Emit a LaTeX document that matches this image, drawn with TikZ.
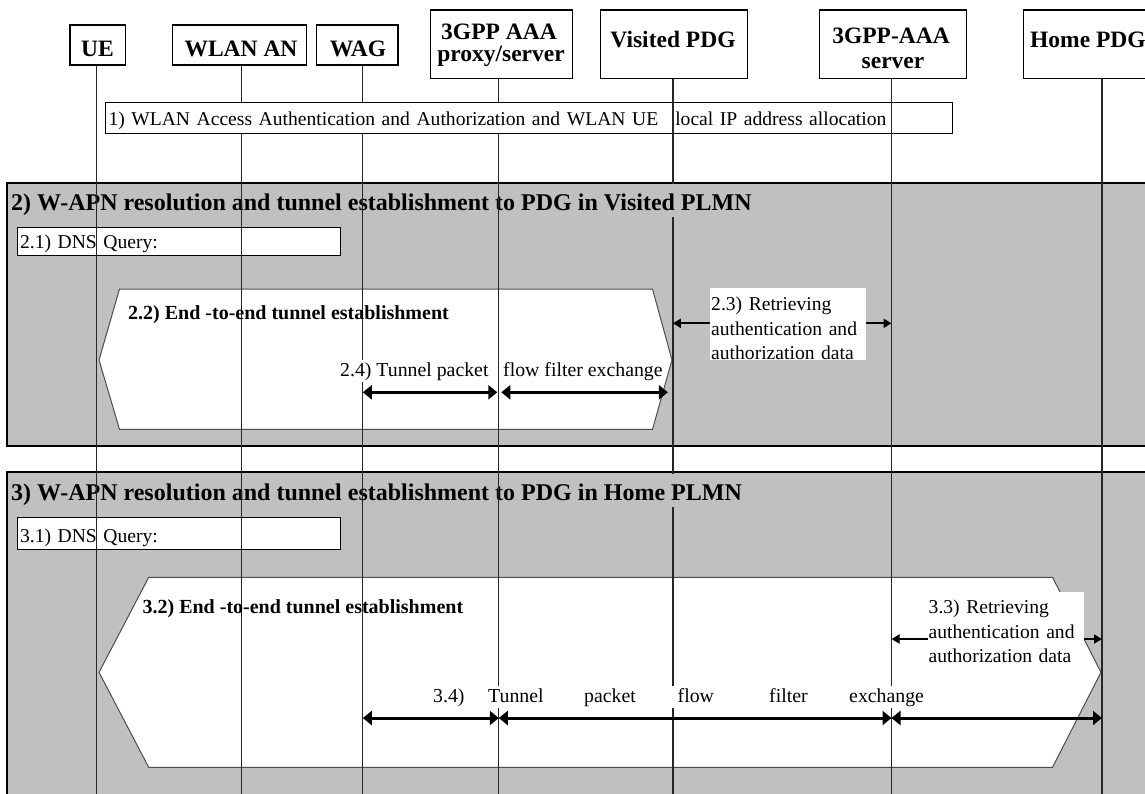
\documentclass[tikz,border=0pt]{standalone}
\usepackage{fontspec}
\setmainfont{Liberation Serif}
\usetikzlibrary{arrows.meta}
\definecolor{framegray}{HTML}{C0C0C0}
\begin{document}
\begin{tikzpicture}[x=1pt,y=-1pt,
  actor/.style={draw=black, line width=1.2pt, fill=white, inner sep=0pt, anchor=north west},
  actortext/.style={font=\fontsize{23.5}{24}\selectfont\bfseries, inner sep=0pt, anchor=base},
  lifeline/.style={line width=1.3pt, draw=black!85},
  stagebox/.style={draw=black, line width=2pt, fill=framegray},
  hexa/.style={draw=black!70, line width=1pt, fill=white},
  stepbox/.style={draw=black, line width=1pt, fill=white, anchor=north west, inner ysep=0pt, align=left, font=\fontsize{19.6}{24.5}\selectfont},
  frametitle/.style={font=\fontsize{24}{26}\selectfont\bfseries, anchor=base west, inner xsep=0pt, inner ysep=0pt, fill=framegray},
  sublabel/.style={font=\fontsize{20}{24}\selectfont\bfseries, anchor=base west, inner sep=0pt},
  wordlabel/.style={font=\fontsize{19.8}{24.5}\selectfont, fill=white, inner xsep=1.5pt, inner ysep=1pt, text height=15pt, text depth=5pt, anchor=base west},
  infobox/.style={font=\fontsize{19.6}{24.5}\selectfont, fill=white, inner xsep=1pt, inner ysep=0pt, anchor=north west, align=left, text width=154pt},
  bigarrow/.style={line width=3pt, {Triangle[length=9pt,width=14pt]}-{Triangle[length=9pt,width=14pt]}},
  smallarrow/.style={line width=2pt, {Triangle[length=8pt,width=9pt]}-{Triangle[length=8pt,width=9pt]}}
]
\useasboundingbox (0,0) rectangle (1145,793);
\clip (0,0) rectangle (1145,793);
\fill[white] (0,0) rectangle (1145,793);

% phase frames
\draw[stagebox] (7.4,182.7) rectangle (1170,445.7);
\draw[stagebox] (7.4,471.7) rectangle (1170,820);

% tunnel hexagons
\draw[hexa] (99,360) -- (119.5,289) -- (652.5,289) -- (672,360) -- (652.5,429.3) -- (119.5,429.3) -- cycle;
\draw[hexa] (99,672.3) -- (148.7,577.3) -- (1052.5,577.3) -- (1101,672.3) -- (1052.5,767.3) -- (148.7,767.3) -- cycle;

% actors
\node[actor, minimum width=55.7pt, minimum height=40pt] (ue) at (69.3,24.3) {};
\node[actor, minimum width=134.3pt, minimum height=40pt] (wlan) at (171.7,24.3) {};
\node[actor, minimum width=81.3pt, minimum height=40pt] (wag) at (316,24.3) {};
\node[actor, minimum width=141.8pt, minimum height=68.4pt] (proxy) at (430,9.3) {};
\node[actor, minimum width=147pt, minimum height=68.4pt] (vpdg) at (600,9.3) {};
\node[actor, minimum width=147pt, minimum height=68.4pt] (aaa) at (819,9.3) {};
\node[actor, minimum width=150pt, minimum height=68.4pt] (hpdg) at (1023,9.3) {};

\node[actortext] (uet) at (97.5,56.7) {UE};
\node[actortext] (wlant) at (241,56.7) {WLAN AN};
\node[actortext] (wagt) at (358,56.7) {WAG};
\node[actortext] (proxyt1) at (499,39.3) {3GPP AAA};
\node[actortext] (proxyt2) at (501,61) {proxy/server};
\node[actortext] (vpdgt) at (673,47) {Visited PDG};
\node[actortext] (aaat1) at (891,43.3) {3GPP-AAA};
\node[actortext] (aaat2) at (893,68.3) {server};
\node[actortext, anchor=base west] (hpdgt) at (1030,47) {Home PDG};

% lifeline ends
\coordinate (ueE) at (96.8,795);
\coordinate (wlanE) at (241.8,795);
\coordinate (wagE) at (362.8,795);
\coordinate (proxyE) at (498.8,795);
\coordinate (vpdgE) at (672.9,795);
\coordinate (aaaE) at (891.5,795);
\coordinate (hpdgE) at (1102,795);

% step 1
\node[stepbox, inner xsep=3pt, text width=841pt, minimum height=31pt, text height=20pt, text depth=5pt] (s1) at (105,102)
  {1) WLAN Access Authentication and Authorization and WLAN UE\hspace{17pt}local IP address allocation};

\draw[lifeline] (vpdgE |- vpdg.south) -- (vpdgE);
\draw[lifeline] (aaaE |- aaa.south) -- (aaaE);

% frame titles
\node[frametitle, text height=26.5pt, text depth=6.5pt] (t2) at (11,210.5) {2) W-APN resolution and tunnel establishment to PDG in Visited PLMN};
\node[frametitle, text height=26pt, text depth=7pt] (t3) at (11,500) {3) W-APN resolution and tunnel establishment to PDG in Home PLMN};

% DNS boxes
\node[stepbox, inner xsep=2.2pt, text width=318.2pt, minimum height=28pt, text height=18.8pt, text depth=5pt] (s21) at (17.4,226.7) {2.1) DNS Query:};
\node[stepbox, inner xsep=2.2pt, text width=318.2pt, minimum height=32.3pt, text height=22.3pt, text depth=5pt] (s31) at (17.4,516.7) {3.1) DNS Query:};

% remaining lifelines
\draw[lifeline] (ueE |- ue.south) -- (ueE);
\draw[lifeline] (hpdgE |- hpdg.south) -- (hpdgE);
\draw[lifeline] (wlanE |- wlan.south) -- (wlanE |- s1.north);
\draw[lifeline] (wlanE |- s1.south) -- (wlanE);
\draw[lifeline] (wagE |- wag.south) -- (wagE |- s1.north);
\draw[lifeline] (wagE |- s1.south) -- (wagE);
\draw[lifeline] (proxyE |- proxy.south) -- (proxyE |- s1.north);
\draw[lifeline] (proxyE |- s1.south) -- (proxyE);

% tunnel labels
\node[sublabel] (l22) at (128,319.5) {2.2) End -to-end tunnel establishment};
\node[sublabel] (l32) at (142.4,613.3) {3.2) End -to-end tunnel establishment};

% arrows
\coordinate (y23) at (0,323.3);
\coordinate (y24) at (0,392.3);
\coordinate (y33) at (0,639);
\coordinate (y34) at (0,718);
\draw[smallarrow] (vpdgE |- y23) -- (aaaE |- y23);
\draw[bigarrow, shorten >=1.5pt] (wagE |- y24) -- (proxyE |- y24);
\draw[bigarrow, shorten <=2.5pt, shorten >=5pt] (proxyE |- y24) -- (vpdgE |- y24);
\draw[smallarrow] (aaaE |- y33) -- (hpdgE |- y33);
\draw[bigarrow] (wagE |- y34) -- (proxyE |- y34);
\draw[bigarrow] (proxyE |- y34) -- (aaaE |- y34);
\draw[bigarrow] (aaaE |- y34) -- (hpdgE |- y34);

% message labels
\node[wordlabel] (l24a) at (338.5,376) {2.4) Tunnel packet};
\node[wordlabel] (l24b) at (501.5,376) {flow filter exchange};
\node[wordlabel, inner xsep=3pt] (l34) at (430,702) {\rlap{3.4)}\hspace{55pt}\rlap{Tunnel}\hspace{96pt}\rlap{packet}\hspace{93.5pt}\rlap{flow}\hspace{91.5pt}\rlap{filter}\hspace{80pt}exchange};
\node[infobox] (l23) at (710,288) {\rule{0pt}{22.5pt}2.3) Retrieving\\authentication and\\authorization data};
\node[infobox, text width=154.5pt] (l33) at (927.5,591.7) {\rule{0pt}{22pt}3.3) Retrieving\\authentication and\\authorization data};
\end{tikzpicture}
\end{document}
